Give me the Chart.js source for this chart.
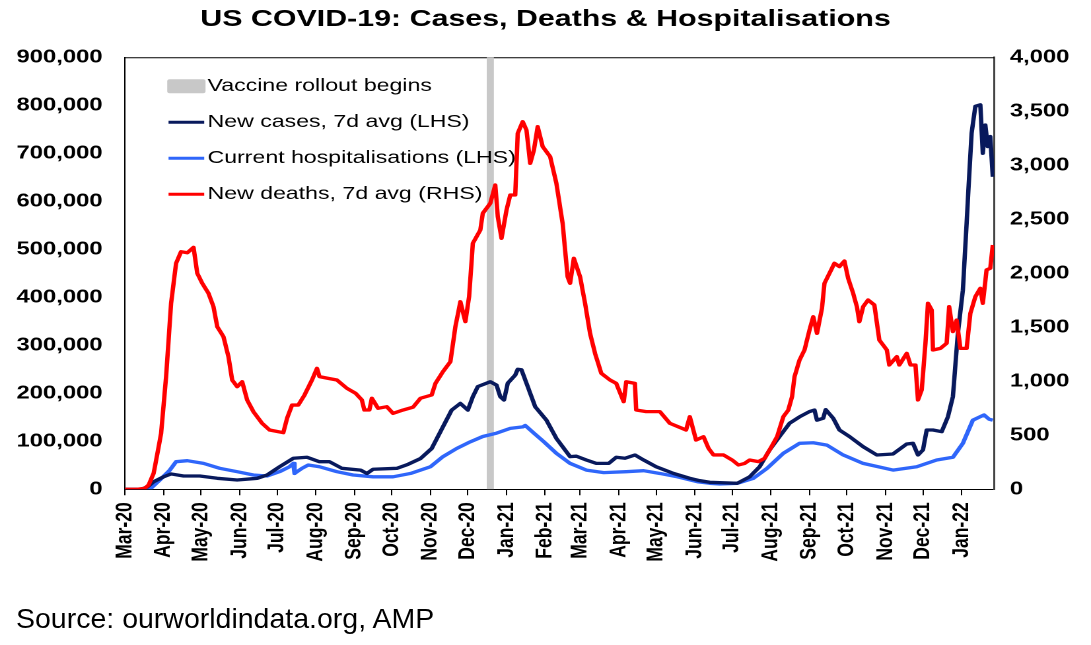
<!DOCTYPE html>
<html>
<head>
<meta charset="utf-8">
<script src="https://cdn.jsdelivr.net/npm/chart.js@4.4.1/dist/chart.umd.min.js"></script>
<style>
  html, body { margin: 0; padding: 0; background: #fff; overflow: hidden; }
  #wrap { position: absolute; left: 0; top: 0; width: 826px; height: 645px;
          transform: scaleX(1.3208); transform-origin: 0 0; }
  #source { position: absolute; left: 16px; top: 602px; font: 28.5px/32px 'Liberation Sans', Arial, sans-serif;
            color: #000; white-space: nowrap; }
</style>
</head>
<body>
<div id="wrap"><canvas id="chart"></canvas></div>
<div id="source">Source: ourworldindata.org, AMP</div>
<script>
// ─── Data (x = days since 1 Mar 2020) ──────────────────
const monthTickDays = [0, 31, 61, 92, 122, 153, 184, 214, 245, 275, 306, 337, 365, 396, 426, 457, 487, 518, 549, 579, 610, 640, 671];
const monthLabels = ['Mar-20', 'Apr-20', 'May-20', 'Jun-20', 'Jul-20', 'Aug-20', 'Sep-20', 'Oct-20', 'Nov-20', 'Dec-20',
                     'Jan-21', 'Feb-21', 'Mar-21', 'Apr-21', 'May-21', 'Jun-21', 'Jul-21', 'Aug-21', 'Sep-21', 'Oct-21',
                     'Nov-21', 'Dec-21', 'Jan-22'];
const lastDay = 697;
const vaccineDay = 293;

// New cases, 7d avg (LHS)
const caseDays = [0, 13, 18, 23, 31, 37, 47, 60, 74, 90, 106, 114, 124, 135, 146, 156, 164, 174, 189, 194,
                  199, 218, 227, 237, 246, 255, 262, 269, 275, 279, 283, 293, 298, 301, 304, 307, 313, 315, 318, 322,
                  329, 338, 346, 357, 362, 370, 378, 388, 394, 401, 409, 416, 426, 440, 453, 461, 469, 477, 491, 501,
                  509, 517, 525, 533, 541, 549, 553, 555, 560, 562, 568, 573, 581, 592, 603, 616, 627, 632, 636, 640,
                  643, 648, 655, 660, 664, 668, 672, 675, 676, 679, 682, 686, 688, 690, 692, 694, 696];
const caseVals = [0, 0, 5000, 15800, 26000, 32000, 27700, 27700, 22900, 19400, 22900, 29800, 47000, 64600, 66700, 57500, 57500, 43700, 40000, 33000,
                  41700, 43700, 52000, 64000, 85000, 130000, 165000, 179000, 165000, 193000, 214000, 224000, 217000, 193000, 186000, 221000, 238000, 250000, 249000, 221000,
                  172000, 144000, 106000, 68000, 69000, 61000, 54000, 54000, 66700, 64600, 71500, 61000, 47000, 33000, 22900, 18000, 14600, 13900, 12500, 26000,
                  47000, 82000, 110000, 137500, 151000, 162000, 165000, 144000, 148000, 166000, 148000, 123500, 110000, 88800, 71500, 73600, 94400, 95800, 71500, 82000,
                  123500, 123500, 120000, 151000, 193000, 325000, 415000, 554000, 603000, 742000, 798000, 801000, 700000, 759000, 714000, 735000, 651000];

// Current hospitalisations (LHS)
const hospDays = [0, 20, 28, 36, 41, 50, 63, 76, 90, 103, 114, 124, 132, 135, 136, 142, 147, 156, 170, 183,
                  199, 215, 229, 237, 245, 255, 266, 277, 287, 298, 309, 319, 321, 328, 336, 346, 357, 370, 384, 402,
                  416, 429, 443, 459, 469, 477, 491, 504, 515, 528, 541, 552, 563, 576, 592, 616, 635, 651, 664, 672,
                  680, 689, 693, 696];
const hospVals = [0, 0, 19400, 40000, 57500, 59600, 54000, 43700, 36700, 29800, 27700, 36700, 47000, 54000, 33000, 43700, 50600, 47000, 36700, 29800,
                  26000, 26000, 33000, 40000, 47000, 68000, 85000, 99000, 110000, 117000, 127000, 130000, 133000, 117000, 99000, 75000, 54000, 40000, 34700, 36700,
                  38800, 33000, 26000, 15800, 12500, 11000, 12500, 22900, 43700, 75000, 95800, 97000, 92000, 71500, 54000, 40000, 47000, 61000, 66700, 95800,
                  144000, 155000, 146000, 144000];

// New deaths, 7d avg (RHS)
const deathDays = [0, 10, 16, 19, 23, 26, 29, 33, 37, 41, 45, 50, 55, 58, 62, 67, 71, 74, 79, 83,
                   86, 90, 94, 98, 103, 110, 116, 127, 130, 134, 139, 144, 150, 154, 156, 163, 170, 178, 185, 190,
                   192, 196, 198, 203, 210, 215, 223, 231, 237, 246, 249, 255, 261, 265, 269, 273, 276, 279, 285, 287,
                   293, 297, 299, 302, 306, 309, 313, 315, 319, 322, 325, 328, 331, 335, 341, 346, 351, 355, 357, 360,
                   365, 369, 373, 377, 382, 389, 394, 400, 402, 409, 410, 418, 429, 437, 450, 453, 458, 464, 468, 472,
                   480, 487, 492, 497, 501, 508, 513, 517, 523, 528, 532, 535, 537, 541, 545, 549, 552, 555, 559, 561,
                   565, 569, 573, 577, 580, 584, 587, 589, 592, 596, 601, 605, 611, 613, 619, 621, 627, 630, 634, 636,
                   639, 642, 644, 647, 648, 654, 659, 661, 664, 667, 670, 675, 678, 682, 686, 688, 691, 694, 696];
const deathVals = [0, 0, 10, 40, 148, 330, 518, 1043, 1722, 2093, 2200, 2190, 2240, 2000, 1907, 1815, 1691, 1506, 1413, 1228,
                   1012, 950, 996, 827, 719, 611, 549, 524, 657, 780, 780, 873, 1012, 1120, 1043, 1027, 1012, 935, 889, 827,
                   734, 734, 843, 750, 765, 703, 734, 760, 843, 873, 981, 1089, 1182, 1506, 1737, 1552, 1783, 2278, 2401, 2556,
                   2648, 2818, 2524, 2324, 2586, 2725, 2725, 3296, 3404, 3327, 3018, 3142, 3358, 3173, 3080, 2833, 2463, 1968, 1907, 2139,
                   1968, 1722, 1444, 1259, 1074, 1012, 981, 811, 996, 981, 734, 719, 719, 611, 549, 672, 456, 487, 380, 318,
                   318, 271, 225, 240, 271, 256, 287, 364, 487, 672, 734, 858, 1043, 1197, 1290, 1475, 1598, 1444, 1676, 1907,
                   2000, 2093, 2062, 2114, 1953, 1815, 1691, 1552, 1691, 1753, 1707, 1382, 1290, 1151, 1228, 1151, 1259, 1151, 1151, 827,
                   920, 1352, 1722, 1660, 1290, 1305, 1352, 1691, 1460, 1567, 1305, 1305, 1629, 1783, 1861, 1722, 2031, 2047, 2262];

// ─── Shared config ─────────────────────────────────────
const C = {
    cases:   '#08195C',
    hosp:    '#2F66FA',
    deaths:  '#FF0000',
    vaccine: '#C8C8C8',
    text:    '#000000',
    family:  "'Liberation Sans', Arial, sans-serif"
};

const toXY = (xs, ys) => xs.map((x, i) => ({ x, y: ys[i] }));

// legend drawn inside the plot, top-left, one entry per row
const insideLegend = {
    id: 'insideLegend',
    afterDraw(chart) {
        const { ctx, chartArea } = chart;
        const x0 = chartArea.left + 32;
        const y0 = chartArea.top + 29;
        ctx.save();
        ctx.font = `17.5px ${C.family}`;
        ctx.textBaseline = 'middle';
        chart.data.datasets.forEach((ds, i) => {
            const y = y0 + i * 36;
            if (ds.legendBox) {
                ctx.fillStyle = ds.borderColor;
                ctx.beginPath();
                ctx.roundRect(x0, y - 7, 29, 14, 2);
                ctx.fill();
            } else {
                ctx.strokeStyle = ds.borderColor;
                ctx.lineWidth = 3;
                ctx.beginPath();
                ctx.moveTo(x0 + 1, y);
                ctx.lineTo(x0 + 28, y);
                ctx.stroke();
            }
            ctx.fillStyle = C.text;
            ctx.fillText(ds.label, x0 + 30.5, y);
        });
        ctx.restore();
    }
};

// top edge of the plot frame
const topFrame = {
    id: 'topFrame',
    beforeDatasetsDraw(chart) {
        const { ctx, chartArea } = chart;
        ctx.save();
        ctx.strokeStyle = '#000';
        ctx.lineWidth = 1;
        ctx.beginPath();
        ctx.moveTo(chartArea.left, chartArea.top + 0.5);
        ctx.lineTo(chartArea.right, chartArea.top + 0.5);
        ctx.stroke();
        ctx.restore();
    }
};

const yTicks = { color: C.text, font: { size: 18, weight: 'bold', family: C.family } };

new Chart(document.getElementById('chart').getContext('2d'), {
    type: 'line',
    data: {
        datasets: [
            {
                label: 'Vaccine rollout begins',
                data: [{ x: vaccineDay, y: 0 }, { x: vaccineDay, y: 900000 }],
                borderColor: C.vaccine,
                borderWidth: 5.4,
                borderCapStyle: 'butt',
                yAxisID: 'y',
                order: 5,
                legendBox: true
            },
            {
                label: 'New cases, 7d avg (LHS)',
                data: toXY(caseDays, caseVals),
                borderColor: C.cases,
                borderWidth: 3.3,
                yAxisID: 'y',
                order: 3
            },
            {
                label: 'Current hospitalisations (LHS)',
                data: toXY(hospDays, hospVals),
                borderColor: C.hosp,
                borderWidth: 3.3,
                yAxisID: 'y',
                order: 4
            },
            {
                label: 'New deaths, 7d avg (RHS)',
                data: toXY(deathDays, deathVals),
                borderColor: C.deaths,
                borderWidth: 3.3,
                yAxisID: 'y1',
                order: 1
            }
        ]
    },
    options: {
        responsive: true,
        maintainAspectRatio: false,
        animation: false,
        devicePixelRatio: 2,
        events: [],
        elements: { point: { radius: 0 }, line: { tension: 0, borderJoinStyle: 'round' } },
        layout: { padding: 0 },
        plugins: {
            legend: { display: false },
            tooltip: { enabled: false },
            title: {
                display: true,
                text: 'US COVID-19: Cases, Deaths & Hospitalisations',
                color: C.text,
                font: { size: 23, weight: 'bold', family: C.family },
                padding: { top: 6, bottom: 23.7 }
            }
        },
        scales: {
            x: {
                type: 'linear',
                min: 0,
                max: lastDay,
                afterBuildTicks: s => { s.ticks = monthTickDays.map(v => ({ value: v })); },
                afterFit: s => { s.height = 155.7; },
                grid: { display: true, drawOnChartArea: false, drawTicks: true, tickLength: 6, color: '#000' },
                border: { display: true, color: '#000', width: 1 },
                ticks: {
                    autoSkip: false,
                    minRotation: 90,
                    maxRotation: 90,
                    padding: 7,
                    color: C.text,
                    font: { size: 17.5, weight: 'bold', family: C.family },
                    callback: (v, i) => monthLabels[i]
                }
            },
            y: {
                position: 'left',
                min: 0,
                max: 900000,
                afterFit: s => { s.width = 94.6; },
                grid: { display: false, drawTicks: false },
                border: { display: true, color: '#000', width: 1 },
                ticks: { ...yTicks, stepSize: 100000, padding: 17, callback: v => v.toLocaleString('en-US') }
            },
            y1: {
                position: 'right',
                min: 0,
                max: 4000,
                afterFit: s => { s.width = 73.4; },
                grid: { display: false, drawTicks: false },
                border: { display: true, color: '#444', width: 1.5 },
                ticks: { ...yTicks, stepSize: 500, padding: 12, callback: v => v.toLocaleString('en-US') }
            }
        }
    },
    plugins: [topFrame, insideLegend]
});
</script>
</body>
</html>
